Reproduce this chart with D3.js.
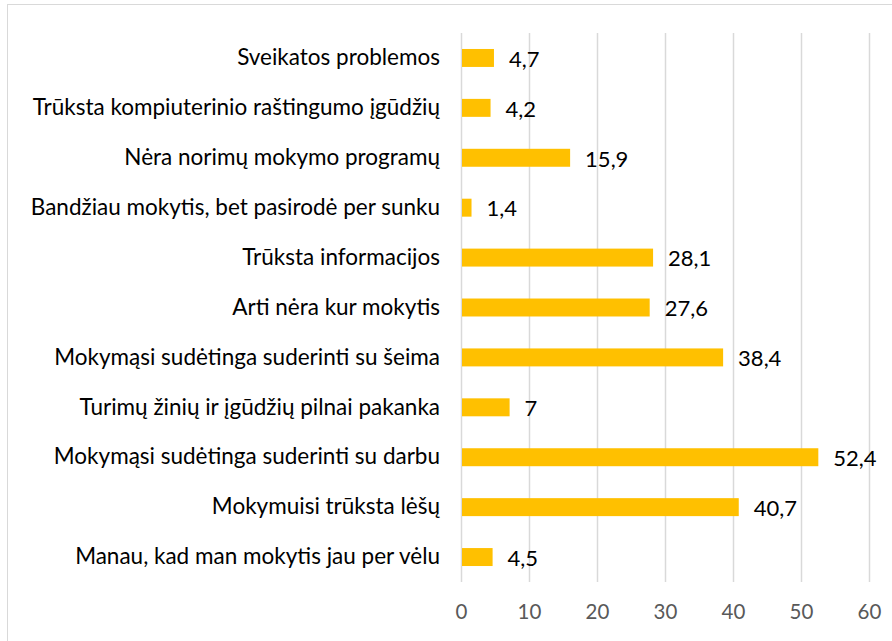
<!DOCTYPE html>
<html>
<head>
<meta charset="utf-8">
<script src="https://cdn.jsdelivr.net/npm/d3@7"></script>
<style>
  body { margin: 0; background: #fff; }
  text { font-family: Lato, "Liberation Sans", sans-serif; }
</style>
</head>
<body>
<div id="chart"></div>
<script>
// categories, top to bottom
const categories = [
  'Sveikatos problemos',
  'Trūksta kompiuterinio raštingumo įgūdžių',
  'Nėra norimų mokymo programų',
  'Bandžiau mokytis, bet pasirodė per sunku',
  'Trūksta informacijos',
  'Arti nėra kur mokytis',
  'Mokymąsi sudėtinga suderinti su šeima',
  'Turimų žinių ir įgūdžių pilnai pakanka',
  'Mokymąsi sudėtinga suderinti su darbu',
  'Mokymuisi trūksta lėšų',
  'Manau, kad man mokytis jau per vėlu'
];
const values = [4.7, 4.2, 15.9, 1.4, 28.1, 27.6, 38.4, 7, 52.4, 40.7, 4.5];
const xTicks = [0, 10, 20, 30, 40, 50, 60];

const width = 892, height = 641;
const margin = {top: 33, right: 23, bottom: 59, left: 461};

const svg = d3.select('#chart').append('svg')
  .attr('width', width)
  .attr('height', height);

// chart border
svg.append('rect')
  .attr('x', 7.5).attr('y', 4.5)
  .attr('width', width).attr('height', height)
  .attr('fill', 'none')
  .attr('stroke', '#d9d9d9');

const x = d3.scaleLinear()
  .domain([0, 60])
  .range([margin.left, width - margin.right]);

const y = d3.scaleBand()
  .domain(categories)
  .range([margin.top, height - margin.bottom])
  .paddingInner(0.64)
  .paddingOuter(0.32);

// gridlines
svg.append('g')
  .selectAll('line')
  .data(xTicks)
  .join('line')
  .attr('x1', d => x(d) + 0.5)
  .attr('x2', d => x(d) + 0.5)
  .attr('y1', margin.top)
  .attr('y2', height - margin.bottom)
  .attr('stroke', '#d9d9d9')
  .attr('stroke-width', 1.5);

// x axis labels
const xAxis = g => g
  .attr('transform', `translate(0,${ height - margin.bottom })`)
  .call(d3.axisBottom(x).tickValues(xTicks).tickSize(0).tickPadding(22))
  .call(g => g.select('.domain').remove())
  .selectAll('text')
  .style('fill', '#595959')
  .attr('font-size', 20.5);

svg.append('g').call(xAxis);

// category labels
const yAxis = g => g
  .attr('transform', `translate(${ margin.left - 21 },0)`)
  .call(d3.axisLeft(y).tickSize(0).tickPadding(0))
  .call(g => g.select('.domain').remove())
  .selectAll('text')
  .style('fill', '#000')
  .attr('font-size', 22.5);

svg.append('g').call(yAxis);

// bars
svg.append('g')
  .selectAll('rect')
  .data(values)
  .join('rect')
  .attr('x', x(0) + 1)
  .attr('y', (d, i) => y(categories[i]))
  .attr('width', d => x(d) - x(0))
  .attr('height', y.bandwidth())
  .attr('fill', '#ffc000');

// value labels
svg.append('g')
  .selectAll('text')
  .data(values)
  .join('text')
  .attr('x', d => x(d) + 16)
  .attr('y', (d, i) => y(categories[i]) + y.bandwidth() / 2)
  .attr('dy', '0.4em')
  .attr('font-size', 22)
  .attr('fill', '#000')
  .text(d => String(d).replace('.', ','));
</script>
</body>
</html>
